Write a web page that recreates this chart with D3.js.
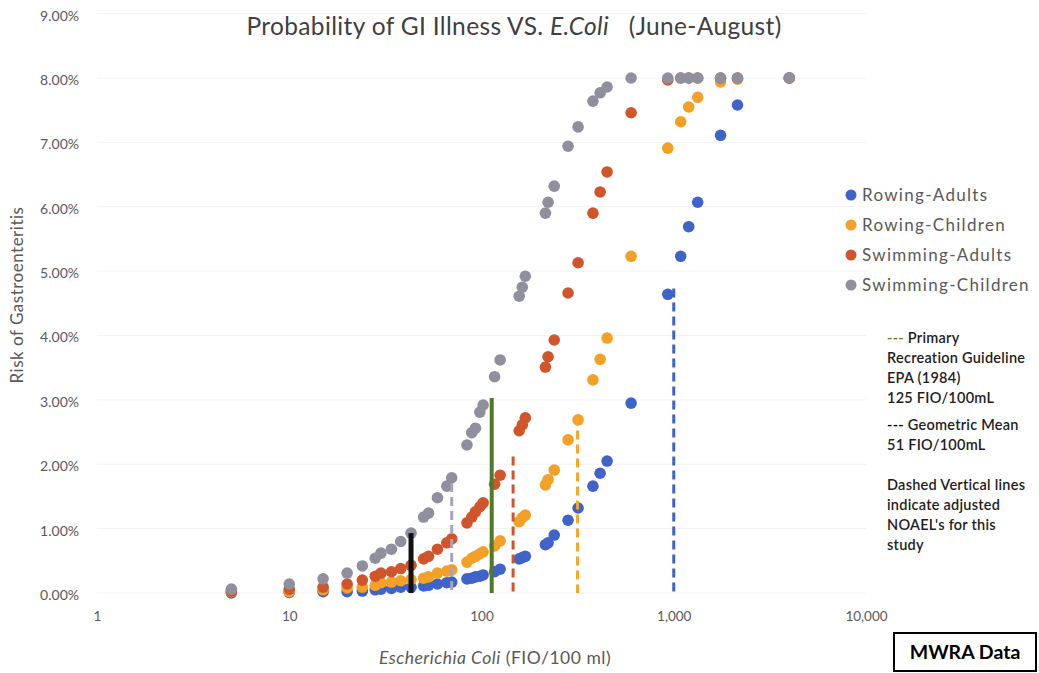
<!DOCTYPE html>
<html>
<head>
<meta charset="utf-8">
<script src="https://cdn.jsdelivr.net/npm/d3@7"></script>
<style>
  html, body { margin: 0; padding: 0; background: #fff; }
  svg { display: block; font-family: Lato, "Open Sans", sans-serif; }
</style>
</head>
<body>
<svg id="chart" width="1039" height="673"></svg>
<script>
// E. coli concentration (FIO/100 ml) shared by every exposure group
const ecoli = [5, 10, 15, 20, 24, 28, 30, 34, 38, 43, 50, 53, 59, 66, 70, 84, 89, 93, 98, 102,
  117, 125, 157, 163, 169, 215, 222, 239, 282, 318, 380, 414, 450, 600, 931, 1087, 1196, 1332,
  1752, 2146, 3990];

// Risk of gastroenteritis (%) per exposure group
const rowingAdults = [0.00, 0.01, 0.02, 0.02, 0.03, 0.05, 0.06, 0.07, 0.09, 0.09, 0.11, 0.12, 0.14,
  0.16, 0.17, 0.22, 0.23, 0.25, 0.26, 0.28, 0.33, 0.37, 0.53, 0.55, 0.57, 0.75, 0.78, 0.90, 1.13,
  1.32, 1.66, 1.86, 2.05, 2.95, 4.64, 5.23, 5.69, 6.07, 7.11, 7.58, 8.00];
const rowingChildren = [0.02, 0.02, 0.05, 0.08, 0.09, 0.12, 0.16, 0.17, 0.19, 0.21, 0.23, 0.25, 0.31,
  0.34, 0.36, 0.48, 0.54, 0.57, 0.61, 0.64, 0.73, 0.81, 1.11, 1.17, 1.21, 1.68, 1.76, 1.91, 2.38,
  2.69, 3.31, 3.63, 3.96, 5.23, 6.91, 7.32, 7.55, 7.70, 7.94, 7.98, 8.00];
const swimmingAdults = [0.03, 0.06, 0.09, 0.14, 0.20, 0.26, 0.31, 0.33, 0.38, 0.43, 0.53, 0.57, 0.68,
  0.78, 0.84, 1.09, 1.18, 1.26, 1.34, 1.40, 1.69, 1.83, 2.52, 2.61, 2.72, 3.51, 3.67, 3.93, 4.66,
  5.13, 5.90, 6.23, 6.54, 7.46, 7.97, 8.00, 8.00, 8.00, 8.00, 8.00, 8.00];
const swimmingChildren = [0.06, 0.14, 0.22, 0.31, 0.42, 0.54, 0.62, 0.68, 0.80, 0.93, 1.18, 1.24, 1.48,
  1.66, 1.79, 2.30, 2.49, 2.56, 2.81, 2.92, 3.36, 3.62, 4.61, 4.75, 4.92, 5.90, 6.07, 6.32, 6.94,
  7.24, 7.64, 7.77, 7.86, 8.00, 8.00, 8.00, 8.00, 8.00, 8.00, 8.00, 8.00];

const seriesNames = ["Rowing-Adults", "Rowing-Children", "Swimming-Adults", "Swimming-Children"];
const seriesColors = ["#3f63c9", "#f2a126", "#d1552b", "#8f8f9e"];
const seriesValues = [rowingAdults, rowingChildren, swimmingAdults, swimmingChildren];

// Axis ticks
const xTicks = [1, 10, 100, 1000, 10000];
const yTicks = [0, 1, 2, 3, 4, 5, 6, 7, 8, 9];

// Reference lines: concentration and the risk level where each line stops
const guideline = { x: 113, top: 3.03 };      // EPA (1984) primary recreation guideline
const geometricMean = { x: 43, top: 0.93 };   // geometric mean of samples
const noaelX = [1000, 316, 146, 70];          // adjusted NOAEL per group
const noaelTop = [4.73, 2.74, 2.12, 1.71];
const noaelColors = ["#3f63c9", "#f5a623", "#d1552b", "#a9a3bf"];

const svg = d3.select("#chart");

const x = d3.scaleLog().domain([1, 10000]).range([97, 866]);
const y = d3.scaleLinear().domain([0, 9]).range([593, 13.6]);

// faint horizontal gridlines
svg.append("g")
  .selectAll("line")
  .data(yTicks)
  .join("line")
  .attr("x1", x(1)).attr("x2", x(10000))
  .attr("y1", d => y(d)).attr("y2", d => y(d))
  .attr("stroke", "#f2f2f2").attr("stroke-width", 1);

// Y axis labels
const yAxis = d3.axisLeft(y).tickValues(yTicks)
  .tickFormat(d => d3.format(".2f")(d) + "%").tickSize(0).tickPadding(0);
svg.append("g")
  .attr("transform", "translate(79,2)")
  .call(yAxis)
  .call(g => g.select(".domain").remove())
  .call(g => g.selectAll("text").attr("fill", "#595959").style("font-size", "14px")
    .style("font-family", "Lato, sans-serif"));

// X axis labels
const xAxis = d3.axisBottom(x).tickValues(xTicks)
  .tickFormat(d3.format(",")).tickSize(0).tickPadding(0);
svg.append("g")
  .attr("transform", "translate(0,611)")
  .call(xAxis)
  .call(g => g.select(".domain").remove())
  .call(g => g.selectAll("text").attr("fill", "#595959").style("font-size", "13.5px")
    .style("font-family", "Lato, sans-serif"));

// scatter points, one group per series
seriesValues.forEach((vals, i) => {
  svg.append("g")
    .selectAll("circle")
    .data(ecoli.map((e, j) => [e, vals[j]]))
    .join("circle")
    .attr("cx", d => x(d[0]))
    .attr("cy", d => y(d[1]))
    .attr("r", 5.8)
    .attr("fill", seriesColors[i]);
});

// NOAEL dashed lines
svg.append("g")
  .selectAll("line")
  .data(noaelX.map((v, i) => ({ v, top: noaelTop[i], c: noaelColors[i] })))
  .join("line")
  .attr("x1", d => x(d.v)).attr("x2", d => x(d.v))
  .attr("y1", d => y(d.top)).attr("y2", y(0))
  .attr("stroke", d => d.c).attr("stroke-width", 3)
  .attr("stroke-dasharray", "9,5");

// guideline and geometric mean solid lines
svg.append("line")
  .attr("x1", x(guideline.x)).attr("x2", x(guideline.x))
  .attr("y1", y(guideline.top)).attr("y2", y(0))
  .attr("stroke", "#4e7a2a").attr("stroke-width", 4);
svg.append("line")
  .attr("x1", x(geometricMean.x)).attr("x2", x(geometricMean.x))
  .attr("y1", y(geometricMean.top)).attr("y2", y(0))
  .attr("stroke", "#111").attr("stroke-width", 5);

// Title
const title = svg.append("text")
  .attr("x", 514).attr("y", 35)
  .attr("text-anchor", "middle")
  .attr("fill", "#404040")
  .style("font-size", "24.5px")
  .style("letter-spacing", "0.35px");
title.append("tspan").text("Probability of GI Illness VS. ");
title.append("tspan").attr("font-style", "italic").text("E.Coli");
title.append("tspan").attr("xml:space", "preserve").text("   (June-August)");

// Axis titles
const xt = svg.append("text")
  .attr("x", 495).attr("y", 664)
  .attr("text-anchor", "middle")
  .attr("fill", "#595959")
  .style("font-size", "17.5px")
  .style("letter-spacing", "0.5px");
xt.append("tspan").attr("font-style", "italic").text("Escherichia Coli");
xt.append("tspan").text(" (FIO/100 ml)");

svg.append("text")
  .attr("transform", "translate(23,295) rotate(-90)")
  .attr("text-anchor", "middle")
  .attr("fill", "#595959")
  .style("font-size", "17px")
  .style("letter-spacing", "0.5px")
  .text("Risk of Gastroenteritis");

// Legend
const legend = svg.append("g").attr("transform", "translate(851,195)");
seriesNames.forEach((name, i) => {
  const row = legend.append("g").attr("transform", `translate(0,${i * 30})`);
  row.append("circle").attr("r", 5.5).attr("fill", seriesColors[i]);
  row.append("text").attr("x", 11).attr("y", 6)
    .attr("fill", "#595959").style("font-size", "17px")
    .style("letter-spacing", "1.3px").text(name);
});

// Notes on the reference lines
const notes = [
  { y: 343, parts: [{ t: "--- ", c: "#6b7a2a" }, { t: "Primary" }] },
  { y: 363, parts: [{ t: "Recreation Guideline" }] },
  { y: 383, parts: [{ t: "EPA (1984)" }] },
  { y: 403, parts: [{ t: "125 FIO/100mL" }] },
  { y: 430, parts: [{ t: "--- ", c: "#000" }, { t: "Geometric Mean" }] },
  { y: 450, parts: [{ t: "51 FIO/100mL" }] },
  { y: 490, parts: [{ t: "Dashed Vertical lines" }] },
  { y: 510, parts: [{ t: "indicate adjusted" }] },
  { y: 530, parts: [{ t: "NOAEL's for this" }] },
  { y: 550, parts: [{ t: "study" }] }
];
const noteG = svg.append("g");
notes.forEach(n => {
  const t = noteG.append("text").attr("x", 887).attr("y", n.y)
    .attr("fill", "#1e1e1e").style("font-size", "14.5px").style("font-weight", "600")
    .style("letter-spacing", "0.25px");
  n.parts.forEach(p => {
    const s = t.append("tspan").text(p.t);
    if (p.c) s.attr("fill", p.c);
  });
});

// Data source box
svg.append("rect")
  .attr("x", 894).attr("y", 633).attr("width", 142).attr("height", 38)
  .attr("fill", "#fff").attr("stroke", "#000").attr("stroke-width", 2);
svg.append("text")
  .attr("x", 965).attr("y", 659)
  .attr("text-anchor", "middle")
  .attr("fill", "#000")
  .style("font-size", "19.5px").style("font-weight", "700")
  .text("MWRA Data");
</script>
</body>
</html>
